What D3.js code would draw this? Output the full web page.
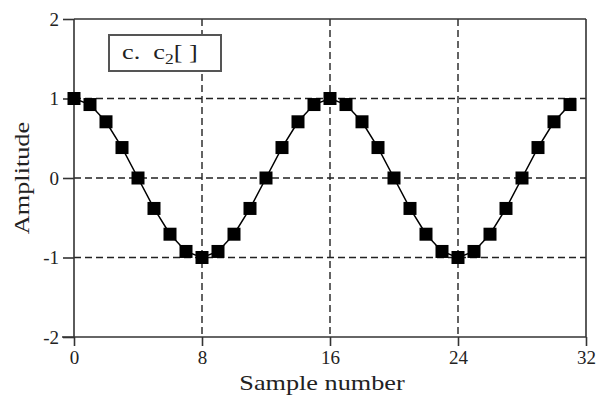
<!DOCTYPE html>
<html><head><meta charset="utf-8">
<script src="https://cdn.jsdelivr.net/npm/d3@7"></script>
<style>body{margin:0;background:#fff}svg{display:block}</style>
</head><body>
<svg id="c" width="597" height="398"></svg>
<script>
const sampleNumbers = [0,1,2,3,4,5,6,7,8,9,10,11,12,13,14,15,16,17,18,19,20,21,22,23,24,25,26,27,28,29,30,31];
const amplitudes = [1,0.924,0.707,0.383,0,-0.383,-0.707,-0.924,-1,-0.924,-0.707,-0.383,0,0.383,0.707,0.924,
                    1,0.924,0.707,0.383,0,-0.383,-0.707,-0.924,-1,-0.924,-0.707,-0.383,0,0.383,0.707,0.924];
const xTicks = [0,8,16,24,32];
const yTicks = [-2,-1,0,1,2];
const xGrid = [8,16,24];
const yGrid = [-1,0,1];
const labelText = "c.  c";

const svg = d3.select("#c");
const L=74,R=586,T=19,B=337;
const x = d3.scaleLinear().domain([0,32]).range([L,R]);
const y = d3.scaleLinear().domain([-2,2]).range([B,T]);
const font = "'Liberation Serif','Times New Roman',serif";
const fmt = d => String(d);

// grid
svg.selectAll(".gx").data(xGrid).enter().append("line")
  .attr("x1",d=>x(d)).attr("x2",d=>x(d)).attr("y1",T).attr("y2",B)
  .attr("stroke","#222").attr("stroke-width",1.4).attr("stroke-dasharray","7,4");
svg.selectAll(".gy").data(yGrid).enter().append("line")
  .attr("x1",L).attr("x2",R).attr("y1",d=>y(d)).attr("y2",d=>y(d))
  .attr("stroke","#222").attr("stroke-width",1.4).attr("stroke-dasharray","7,4");

// frame
svg.append("line").attr("x1",L).attr("x2",R).attr("y1",T).attr("y2",T).attr("stroke","#333").attr("stroke-width",1.6);
svg.append("line").attr("x1",R).attr("x2",R).attr("y1",T).attr("y2",B).attr("stroke","#333").attr("stroke-width",1.6);

// axes
const xAxis = svg.append("g").attr("transform",`translate(0,${B})`)
  .call(d3.axisBottom(x).tickValues(xTicks).tickSize(9).tickPadding(5).tickFormat(fmt));
const yAxis = svg.append("g").attr("transform",`translate(${L},0)`)
  .call(d3.axisLeft(y).tickValues(yTicks).tickSize(11).tickPadding(4).tickFormat(fmt));
[xAxis,yAxis].forEach(g=>{
  g.select(".domain").remove();
  g.selectAll("line").attr("stroke","#333").attr("stroke-width",1.6);
  g.selectAll("text").attr("font-family",font).attr("font-size",19).attr("fill","#222");
});
xAxis.append("line").attr("x1",L-12).attr("x2",R).attr("y1",0).attr("y2",0).attr("stroke","#333").attr("stroke-width",1.6);
yAxis.append("line").attr("x1",0).attr("x2",0).attr("y1",T).attr("y2",B).attr("stroke","#333").attr("stroke-width",1.6);

// axis titles
svg.append("text").attr("transform","translate(322,390) scale(1.25,1)").attr("text-anchor","middle")
  .attr("font-family",font).attr("font-size",21).attr("fill","#222").text("Sample number");
svg.append("text").attr("transform",`translate(29,178) rotate(-90) scale(1.25,1)`).attr("text-anchor","middle")
  .attr("font-family",font).attr("font-size",21).attr("fill","#222").text("Amplitude");

// data
const pts = sampleNumbers.map((n,i)=>[n,amplitudes[i]]);
svg.append("path").datum(pts)
  .attr("d",d3.line().x(d=>x(d[0])).y(d=>y(d[1])))
  .attr("fill","none").attr("stroke","#000").attr("stroke-width",1.5);
const s=13;
svg.selectAll(".m").data(pts).enter().append("rect")
  .attr("x",d=>x(d[0])-s/2).attr("y",d=>y(d[1])-s/2).attr("width",s).attr("height",s).attr("fill","#000");

// label box
svg.append("rect").attr("x",109).attr("y",35).attr("width",112).attr("height",36)
  .attr("fill","#fff").attr("stroke","#555").attr("stroke-width",2);
const t = svg.append("text").attr("transform","translate(122,59) scale(1.25,1)").attr("font-family",font).attr("font-size",21).attr("fill","#222")
  .style("white-space","pre");
t.append("tspan").text(labelText);
t.append("tspan").attr("font-size",14).attr("dy",5).text("2");
t.append("tspan").attr("dy",-5).text("[ ]");
</script>
</body></html>
